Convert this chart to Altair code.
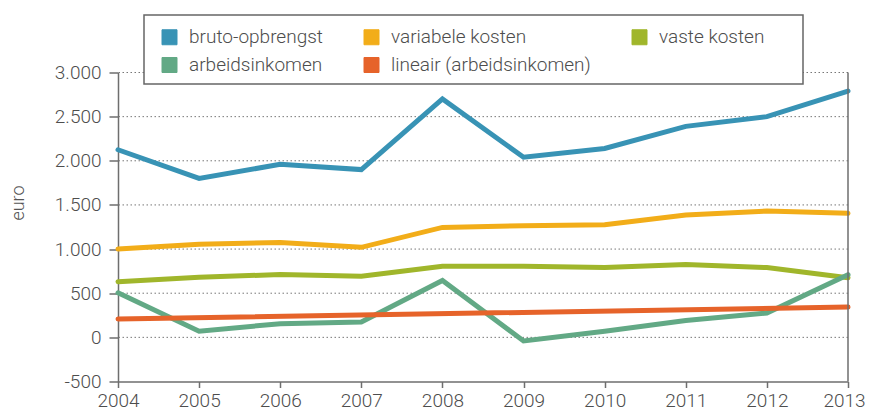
import altair as alt
import pandas as pd

# ---- data ----
YEARS = [2004, 2005, 2006, 2007, 2008, 2009, 2010, 2011, 2012, 2013]
BRUTO = [2125, 1800, 1960, 1900, 2700, 2040, 2140, 2390, 2500, 2790]
VARIABEL = [1000, 1055, 1075, 1020, 1245, 1265, 1275, 1385, 1430, 1405]
VAST = [630, 680, 712, 692, 805, 805, 790, 825, 790, 675]
ARBEID = [505, 70, 155, 175, 645, -40, 70, 190, 275, 710]

SERIES = ["bruto-opbrengst", "variabele kosten", "vaste kosten",
          "arbeidsinkomen", "lineair (arbeidsinkomen)"]
COLORS = ["#3893b5", "#f2ad19", "#a0b62b", "#62a985", "#e6632a"]
Y_TICKS = [-500, 0, 500, 1000, 1500, 2000, 2500, 3000]
GRID = [0, 500, 1000, 1500, 2000, 2500, 3000]

rows = []
for name, vals in zip(SERIES[:4], [BRUTO, VARIABEL, VAST, ARBEID]):
    for y, v in zip(YEARS, vals):
        rows.append({"year": y, "value": v, "series": name})
df = pd.DataFrame(rows)
legend_df = pd.DataFrame({"series": SERIES, "year": [YEARS[0]] * 5, "value": [0] * 5})

FONT = "Roboto"
TXT = "#4d4d4d"
AX = "#6e6e6e"
W, H = 730, 309

xscale = alt.Scale(domain=[YEARS[0], YEARS[-1]], nice=False, zero=False)
yscale = alt.Scale(domain=[Y_TICKS[0], Y_TICKS[-1]], nice=False, zero=False)
cscale = alt.Scale(domain=SERIES, range=COLORS)

xaxis = alt.Axis(values=YEARS, format="d", tickSize=6, labelPadding=4, grid=False,
                 labelFlush=False, labelOverlap=False,
                 labelOffset=alt.condition("datum.value == 2013", alt.value(-4), alt.value(0)))
yaxis = alt.Axis(values=Y_TICKS, tickSize=9, labelPadding=8, grid=False,
                 labelExpr="(datum.value < 0 ? '-' : '') + replace(format(abs(datum.value), ','), ',', '.')",
                 titleX=-100, titleY=130, titleAngle=-90,
                 titleAlign="center", titleBaseline="middle")

legend = alt.Legend(
    title=None, orient="none", legendX=31, legendY=-56, direction="horizontal",
    columns=3, columnPadding=39, rowPadding=8, padding=11,
    symbolType="square", symbolSize=225, symbolStrokeWidth=1,
    symbolStrokeColor="#555555", symbolOpacity=1,
    labelFont=FONT, labelFontSize=19, labelFontWeight=300, labelColor=TXT,
    labelOffset=10, labelLimit=400, gridAlign="each",
)

X = alt.X("year:Q", scale=xscale, title=None, axis=xaxis)
Y = alt.Y("value:Q", scale=yscale, title="euro", axis=yaxis)
C = alt.Color("series:N", scale=cscale, legend=legend, sort=SERIES)

keys = alt.Chart(legend_df).mark_square(
    size=0, filled=True, stroke="#555555", strokeWidth=1
).encode(x=X, y=Y, color=C)

grid = alt.Chart(pd.DataFrame({"value": GRID})).mark_rule(
    color="#777777", strokeWidth=1, strokeDash=[1.5, 2.5]
).encode(y=Y)

lines = alt.Chart(df).mark_line(strokeWidth=5, strokeCap="round").encode(
    x=X, y=Y, color=C)

trend = alt.Chart(df).transform_filter(
    alt.datum.series == "arbeidsinkomen"
).transform_regression("year", "value").transform_calculate(
    series="'lineair (arbeidsinkomen)'"
).mark_line(strokeWidth=5, strokeCap="round").encode(x=X, y=Y, color=C)

border = alt.Chart(pd.DataFrame({"v": [0]})).mark_rule(
    color=AX, strokeWidth=1.5
).encode(x=alt.value(W), y=alt.value(0), y2=alt.value(H))

# frame behind the legend
legend_frame = alt.Chart(pd.DataFrame({"v": [0]})).mark_rect(
    fill="white", stroke="#666666", strokeWidth=1.5
).encode(x=alt.value(26), x2=alt.value(685), y=alt.value(-57.5), y2=alt.value(11.5))

chart = alt.layer(keys, grid, lines, trend, border, legend_frame).properties(
    width=W, height=H,
    autosize=alt.AutoSizeParams(type="none"),
    padding={"left": 110, "top": 64.5, "right": 17, "bottom": 30},
).configure_view(stroke=None).configure_axis(
    labelFont=FONT, labelFontSize=19, labelFontWeight=300, labelColor=TXT,
    titleFont=FONT, titleFontSize=18, titleColor="#555555", titleFontWeight=300,
    domainColor=AX, domainWidth=1.5, tickColor=AX, tickWidth=1.5,
)

chart.save("out.html", embed_options={"renderer": "svg", "actions": False})
